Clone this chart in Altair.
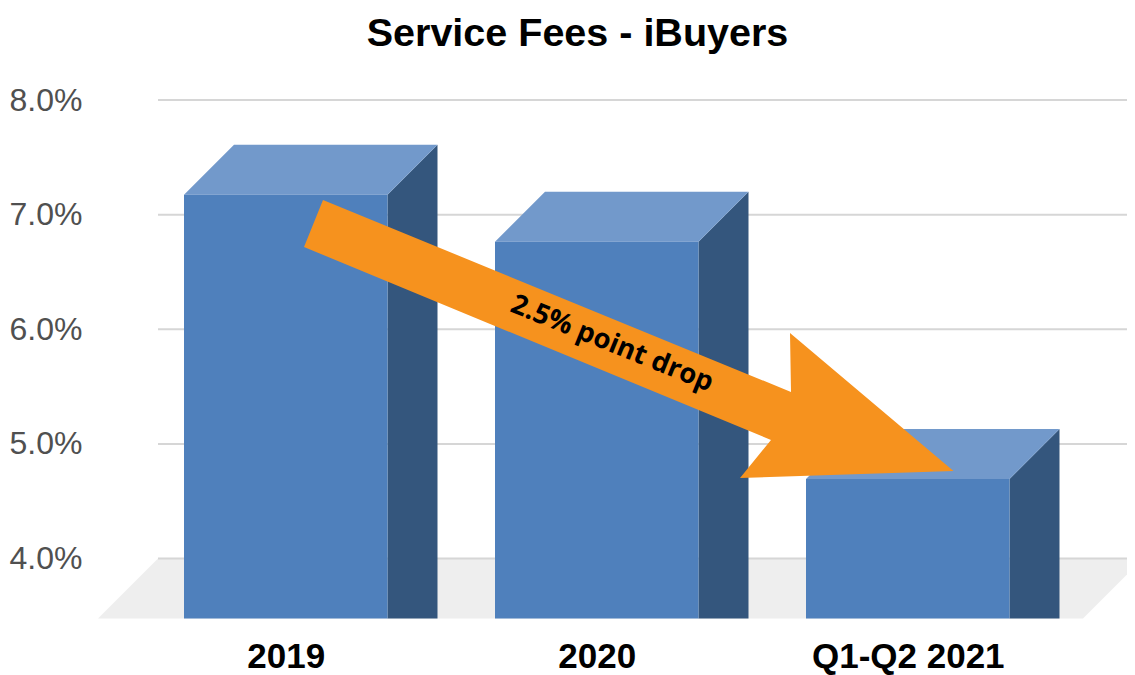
import altair as alt
import pandas as pd

# --- chart values ---
categories = ["2019", "2020", "Q1-Q2 2021"]
fees = [7.61, 7.2, 5.13]
y_ticks = [4, 5, 6, 7, 8]

# --- layout constants in page pixels ---
PLOT_L, PLOT_R, PLOT_T, PLOT_B = 92, 1127, 60, 620
PX_PER_PCT = 114.6
Y4 = 558.5            # pixel of 4 %
STEP = 311.0          # px between bars
X0 = 285.75           # px centre of first bar's front face
HALF = 101.75 / STEP  # half bar width, index units
DX = 50 / STEP        # bar depth, x
DY = 50 / PX_PER_PCT  # bar depth, y
FLOOR_DX = 60 / STEP
BASE = 4 - (618.5 - Y4) / PX_PER_PCT

xscale = alt.Scale(domain=[(PLOT_L - X0) / STEP, (PLOT_R - X0) / STEP], nice=False, zero=False)
yscale = alt.Scale(domain=[4 - (PLOT_B - Y4) / PX_PER_PCT, 4 + (Y4 - PLOT_T) / PX_PER_PCT], nice=False, zero=False)

FONT = "Liberation Sans"
labels_js = "[" + ",".join(f"'{c}'" for c in categories) + "][datum.value]"
x_axis = alt.Axis(values=list(range(len(categories))), labelExpr=labels_js, title=None, domain=False, ticks=False,
                  grid=False, labelFont=FONT, labelFontSize=35, labelFontWeight="bold", labelColor="#000000",
                  labelPadding=19, labelFlush=False, labelOverlap=False, labelAngle=0, labelLimit=500)
y_axis = alt.Axis(values=y_ticks, labelExpr="format(datum.value,'.1f')+'%'", title=None, domain=False, ticks=False,
                  grid=False, labelFont=FONT, labelFontSize=32, labelColor="#505050", labelPadding=10)

X = lambda f: alt.X(f, type="quantitative", scale=xscale, axis=x_axis)
Y = lambda f: alt.Y(f, type="quantitative", scale=yscale, axis=y_axis)

# floor
floor_left = (158 - X0) / STEP
floor_right = (1143 - X0) / STEP
floor_df = pd.DataFrame({
    "y": [4, BASE],
    "x": [floor_left, floor_left - FLOOR_DX],
    "x2": [floor_right, floor_right - FLOOR_DX],
})
floor = alt.Chart(floor_df).mark_area(orient="horizontal", color="#eeeeee", clip=True).encode(
    x=X("x"), x2="x2", y=Y("y"))

# gridlines
grid_df = pd.DataFrame({"y": y_ticks, "x": [floor_left] * len(y_ticks), "x2": [floor_right] * len(y_ticks)})
grid = alt.Chart(grid_df).mark_rule(color="#d6d6d6", strokeWidth=2, clip=True).encode(
    x=X("x"), x2="x2", y=Y("y"))

# 3-D bar faces
front_rows, top_rows, side_rows = [], [], []
for i, v in enumerate(fees):
    front_rows.append({"x": i - HALF, "x2": i + HALF, "y": v - DY, "y2": BASE})
    top_rows += [
        {"i": i, "y": v, "x": i - HALF + DX, "x2": i + HALF + DX},
        {"i": i, "y": v - DY, "x": i - HALF, "x2": i + HALF},
    ]
    side_rows += [
        {"i": i, "x": i + HALF, "y": v - DY, "y2": BASE},
        {"i": i, "x": i + HALF + DX, "y": v, "y2": BASE},
    ]

side = alt.Chart(pd.DataFrame(side_rows)).mark_area(orient="vertical", color="#34567d").encode(
    x=X("x"), y=Y("y"), y2="y2", detail="i:N")
top = alt.Chart(pd.DataFrame(top_rows)).mark_area(orient="horizontal", color="#7299cb").encode(
    x=X("x"), x2="x2", y=Y("y"), detail="i:N")
front = alt.Chart(pd.DataFrame(front_rows)).mark_rect(color="#4f80bc").encode(
    x=X("x"), x2="x2", y=Y("y"), y2="y2")

# orange arrow annotation: outline in page pixels, shifted to plot coordinates
outline = [(323, 200), (791, 392), (790, 333), (953.5, 471), (740, 478), (771, 440), (304, 247)]
path = "M" + " L".join(f"{px - PLOT_L} {py - PLOT_T}" for px, py in outline) + " Z"
arrow = alt.Chart(pd.DataFrame({"a": [0]})).mark_point(
    shape=path, size=4, filled=True, fill="#f6921e", strokeWidth=0, opacity=1
).encode(x=alt.value(0), y=alt.value(0))

note = alt.Chart(pd.DataFrame({"t": ["2.5% point drop"]})).mark_text(
    font="Open Sans", fontWeight="bold", fontSize=27.5, angle=22, color="#000000", align="center", baseline="middle"
).encode(x=alt.value(612 - PLOT_L), y=alt.value(344 - PLOT_T), text="t:N")

chart = alt.layer(floor, grid, side, top, front, arrow, note).properties(
    width=PLOT_R - PLOT_L,
    height=PLOT_B - PLOT_T,
    background="#ffffff",
    autosize=alt.AutoSizeParams(type="none"),
    padding={"left": PLOT_L - 8, "right": 0, "top": PLOT_T - 8, "bottom": 667 - (PLOT_B - 8)},
    title=alt.TitleParams("Service Fees - iBuyers", font=FONT, fontSize=39.5, fontWeight="bold", color="#000000",
                          anchor="middle", dx=-32, offset=6),
).configure_view(strokeWidth=0, stroke="transparent")

chart.save("out.html", embed_options={"renderer": "svg", "actions": False})
